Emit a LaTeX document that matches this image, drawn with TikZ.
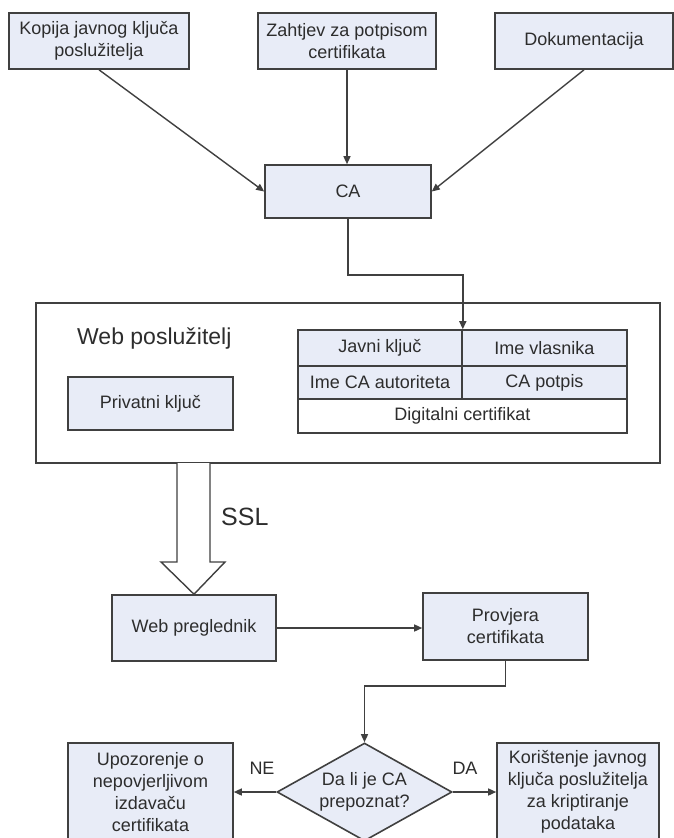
\documentclass[tikz,border=0pt]{standalone}
\usepackage{fontspec}
\setmainfont{Liberation Sans}
\usetikzlibrary{shapes.geometric,arrows.meta}
\definecolor{boxfill}{RGB}{232,236,247}
\definecolor{edge}{RGB}{64,64,64}
\definecolor{txt}{RGB}{45,45,45}
\begin{document}
\begin{tikzpicture}[x=1pt,y=-1pt,
  box/.style={draw=edge,fill=boxfill,line width=1.6pt,inner sep=0pt,align=center,
    font=\fontsize{18}{22}\selectfont,text=txt},
  plain/.style={font=\fontsize{18}{22}\selectfont,text=txt,inner sep=0pt},
  arr/.style={draw=edge,line width=1.4pt,-{Triangle[length=8pt,width=7pt]}},
  ]
\clip (0,0) rectangle (674,838);
\fill[white] (0,0) rectangle (674,838);

% top inputs
\node[box,minimum width=180pt,minimum height=56pt] (kop) at (99,41) {Kopija javnog ključa\\poslužitelja};
\node[box,minimum width=178pt,minimum height=56pt] (zah) at (347,41) {Zahtjev za potpisom\\certifikata};
\node[box,minimum width=178pt,minimum height=56pt] (dok) at (584,41) {Dokumentacija};

% CA
\node[box,minimum width=166pt,minimum height=53pt] (ca) at (348,191.5) {CA};
\draw[arr] (kop.south) -- (ca.west);
\draw[arr] (zah.south) -- (zah.south |- ca.north);
\draw[arr] (dok.south) -- (ca.east);

% web server
\node[draw=edge,line width=1.6pt,fill=white,minimum width=624pt,minimum height=160pt,inner sep=0pt] (web) at (348,383) {};
\node[anchor=west,font=\fontsize{23}{27}\selectfont,text=txt,inner sep=0pt] (webl) at (77,339) {Web poslužitelj};
\node[box,minimum width=165pt,minimum height=53pt] (priv) at (150.5,403.5) {Privatni ključ};

% certificate table
\node[box,minimum width=164pt,minimum height=36pt] (jk) at (380,348) {Javni ključ};
\node[box,minimum width=165pt,minimum height=36pt] (iv) at (544.5,348) {Ime vlasnika};
\node[box,minimum width=164pt,minimum height=33pt] (ica) at (380,382.5) {Ime CA autoriteta};
\node[box,minimum width=165pt,minimum height=33pt] (cap) at (544.5,382.5) {CA potpis};
\node[box,fill=white,minimum width=329pt,minimum height=34pt] (dc) at (462.5,416) {Digitalni certifikat};
\draw[arr] (ca.south) -- ++(0,56) -| (jk.north east);

% browser
\node[box,minimum width=164pt,minimum height=66pt] (wp) at (194,628) {Web preglednik};
\draw[draw=edge,line width=1.4pt,fill=white]
  (177,463) -- (177,562) -- (161,562) -- (wp.north) -- (225,562) -- (210,562) -- (210,463);
\node[anchor=west,font=\fontsize{25}{30}\selectfont,text=txt,inner sep=0pt] (ssl) at (221,517) {SSL};

\node[box,minimum width=165pt,minimum height=67pt] (prov) at (505.5,626.5) {Provjera\\certifikata};
\draw[arr] (wp.east) -- (wp.east -| prov.west);

% decision
\node[box,diamond,aspect=1.79,minimum width=175pt,minimum height=98pt] (dia) at (364.5,792) {Da li je CA\\prepoznat?};
\draw[arr] (prov.south) -- ++(0,25) -| (dia.north);

\node[box,minimum width=165pt,minimum height=98pt] (upo) at (150.5,792) {Upozorenje o\\nepovjerljivom\\izdavaču\\certifikata};
\node[box,minimum width=162pt,minimum height=98pt] (kor) at (578,792) {Korištenje javnog\\ključa poslužitelja\\za kriptiranje\\podataka};
\draw[arr] (dia.west) -- (upo.east);
\draw[arr] (dia.east) -- (kor.west);
\node[plain] (ne) at (262,768) {NE};
\node[plain] (da) at (465,768) {DA};
\end{tikzpicture}
\end{document}
